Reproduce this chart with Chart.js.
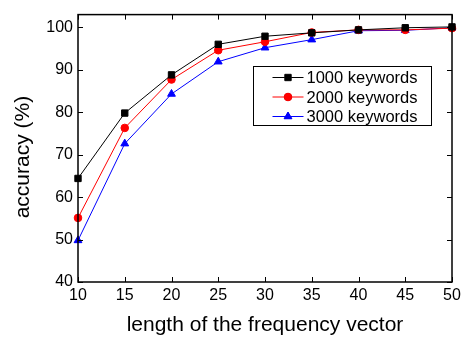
<!DOCTYPE html>
<html lang="en">
<head>
  <meta charset="UTF-8">
  <title>accuracy vs length</title>
  <script src="https://cdn.jsdelivr.net/npm/chart.js"></script>
  <style>
    html, body { margin: 0; padding: 0; background: #fff; }
    #wrap { width: 471px; height: 340px; }
  </style>
</head>
<body>
  <div id="wrap"><canvas id="accChart" width="471" height="340"></canvas></div>

  <script>
    // vector lengths (x axis)
    const lengths = [10, 15, 20, 25, 30, 35, 40, 45, 50];
    // accuracy in %
    const acc1000 = [64.4, 79.8, 88.8, 96.0, 97.9, 98.7, 99.4, 99.9, 100.1];
    const acc2000 = [55.1, 76.3, 87.7, 94.6, 96.6, 98.8, 99.4, 99.4, 99.8];
    const acc3000 = [49.8, 72.6, 84.3, 91.9, 95.2, 97.1, 99.2, 99.3, 99.9];
    const seriesNames = ['1000 keywords', '2000 keywords', '3000 keywords'];
    const yTicks = [40, 50, 60, 70, 80, 90, 100];

    const FONT = 'Liberation Sans, Arial, sans-serif';

    function pts(vals) {
      return lengths.map((x, i) => ({ x: x, y: vals[i] }));
    }

    // frame + inward ticks on all four sides, and the boxed legend inside the plot
    const framePlugin = {
      id: 'frame',
      afterDraw(chart) {
        const ctx = chart.ctx;
        const a = chart.chartArea;
        const xs = chart.scales.x, ys = chart.scales.y;
        ctx.save();
        ctx.strokeStyle = '#000';
        ctx.lineWidth = 1.5;
        ctx.strokeRect(a.left, a.top, a.right - a.left, a.bottom - a.top);
        ctx.lineWidth = 1;
        ctx.beginPath();
        xs.ticks.forEach(t => {
          const px = Math.round(xs.getPixelForValue(t.value)) + 0.5;
          ctx.moveTo(px, a.bottom); ctx.lineTo(px, a.bottom - 5);
          ctx.moveTo(px, a.top); ctx.lineTo(px, a.top + 5);
        });
        ys.ticks.forEach(t => {
          const py = Math.round(ys.getPixelForValue(t.value)) + 0.5;
          ctx.moveTo(a.left, py); ctx.lineTo(a.left + 5, py);
          ctx.moveTo(a.right, py); ctx.lineTo(a.right - 5, py);
        });
        ctx.stroke();

        // legend box
        const bx = 253.5, by = 66.5, bw = 178, bh = 59;
        ctx.fillStyle = '#fff';
        ctx.fillRect(bx, by, bw, bh);
        ctx.strokeStyle = '#000';
        ctx.lineWidth = 1;
        ctx.strokeRect(bx, by, bw, bh);
        ctx.font = '16.5px ' + FONT;
        ctx.textBaseline = 'middle';
        chart.data.datasets.forEach((ds, i) => {
          const yy = by + 11 + i * 19.5;
          ctx.strokeStyle = ds.borderColor;
          ctx.lineWidth = 1;
          ctx.beginPath();
          ctx.moveTo(bx + 19, yy); ctx.lineTo(bx + 50, yy);
          ctx.stroke();
          Chart.helpers.drawPoint(ctx, {
            pointStyle: ds.pointStyle, radius: ds.pointRadius, borderWidth: 1
          }, bx + 34.5, yy);
          ctx.fillStyle = ds.backgroundColor;
          ctx.strokeStyle = ds.borderColor;
          ctx.fill();
          ctx.fillStyle = '#000';
          ctx.fillText(ds.label, bx + 53, yy + 1);
        });
        ctx.restore();
      }
    };

    new Chart(document.getElementById('accChart'), {
      type: 'line',
      data: {
        datasets: [
          { label: seriesNames[0], data: pts(acc1000), borderColor: '#000', backgroundColor: '#000', pointStyle: 'rect', pointRadius: 4.5 },
          { label: seriesNames[1], data: pts(acc2000), borderColor: '#ff0000', backgroundColor: '#ff0000', pointStyle: 'circle', pointRadius: 3.8 },
          { label: seriesNames[2], data: pts(acc3000), borderColor: '#0000ff', backgroundColor: '#0000ff', pointStyle: 'triangle', pointRadius: 4.5 }
        ].map(d => Object.assign(d, { borderWidth: 1, pointBorderWidth: 1, tension: 0, clip: false }))
      },
      options: {
        responsive: false,
        animation: false,
        devicePixelRatio: 1,
        layout: { padding: { left: 0, right: 19, top: 4, bottom: 0 } },
        plugins: { legend: { display: false }, tooltip: { enabled: false } },
        scales: {
          x: {
            type: 'linear', min: 10, max: 50,
            ticks: { stepSize: 5, color: '#000', font: { family: FONT, size: 16 }, padding: 4, maxRotation: 0 },
            grid: { display: false, drawTicks: false },
            border: { display: false },
            title: { display: true, text: 'length of the frequency vector', color: '#000', font: { family: FONT, size: 21 }, padding: { top: 0, bottom: 2 } },
            afterFit(s) { s.height = 58; }
          },
          y: {
            min: 40, max: 103,
            afterBuildTicks(s) { s.ticks = yTicks.map(v => ({ value: v })); },
            ticks: { color: '#000', font: { family: FONT, size: 16 }, padding: 5 },
            grid: { display: false, drawTicks: false },
            border: { display: false },
            title: { display: true, text: 'accuracy (%)   ', color: '#000', font: { family: FONT, size: 21 }, padding: { top: 11, bottom: 0 } },
            afterFit(s) { s.width = 78; }
          }
        }
      },
      plugins: [framePlugin]
    });
  </script>
</body>
</html>
